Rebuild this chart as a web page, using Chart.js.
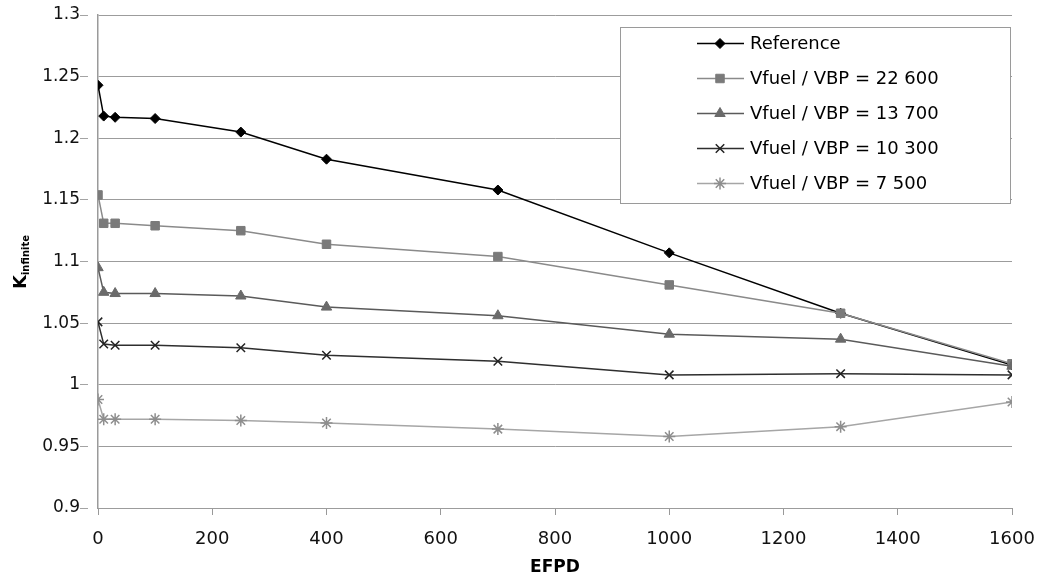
<!DOCTYPE html>
<html>
<head>
<meta charset="utf-8">
<script src="https://cdn.jsdelivr.net/npm/chart.js@4.4.0/dist/chart.umd.min.js"></script>
<style>
  html, body { margin: 0; padding: 0; background: #ffffff; }
  #wrap { width: 1041px; height: 578px; }
</style>
</head>
<body>
<div id="wrap"><canvas id="c" width="1041" height="578"></canvas></div>
<script>
// ---- data ----
const efpd = [0, 10, 30, 100, 250, 400, 700, 1000, 1300, 1600];
const seriesLabels = ['Reference', 'Vfuel / VBP = 22 600', 'Vfuel / VBP = 13 700', 'Vfuel / VBP = 10 300', 'Vfuel / VBP = 7 500'];
const kReference = [1.243, 1.218, 1.217, 1.216, 1.205, 1.183, 1.158, 1.107, 1.058, 1.016];
const k22600 = [1.154, 1.131, 1.131, 1.129, 1.125, 1.114, 1.104, 1.081, 1.058, 1.017];
const k13700 = [1.095, 1.075, 1.074, 1.074, 1.072, 1.063, 1.056, 1.041, 1.037, 1.015];
const k10300 = [1.051, 1.033, 1.032, 1.032, 1.030, 1.024, 1.019, 1.008, 1.009, 1.008];
const k7500 = [0.988, 0.972, 0.972, 0.972, 0.971, 0.969, 0.964, 0.958, 0.966, 0.986];
const xTicks = [0, 200, 400, 600, 800, 1000, 1200, 1400, 1600];
const yTicks = [0.9, 0.95, 1, 1.05, 1.1, 1.15, 1.2, 1.25, 1.3];
const xTitle = 'EFPD';
const yTitleMain = 'K';
const yTitleSub = 'infinite';

const FONT = "'DejaVu Sans', sans-serif";

const styles = [
  { line: '#000000', fill: '#000000', stroke: '#000000', point: 'rectRot', r: 5, bw: 1 },
  { line: '#8a8a8a', fill: '#7a7a7a', stroke: '#7a7a7a', point: 'rect', r: 6, bw: 1 },
  { line: '#5a5a5a', fill: '#6a6a6a', stroke: '#6a6a6a', point: 'triangle', r: 6, bw: 1 },
  { line: '#2e2e2e', fill: '#222222', stroke: '#222222', point: 'crossRot', r: 6, bw: 1.5 },
  { line: '#a6a6a6', fill: '#8e8e8e', stroke: '#8e8e8e', point: 'star', r: 6, bw: 1.5 }
];
const seriesValues = [kReference, k22600, k13700, k10300, k7500];

const datasets = seriesValues.map((vals, i) => ({
  label: seriesLabels[i],
  data: efpd.map((x, j) => ({ x: x, y: vals[j] })),
  showLine: true,
  borderColor: styles[i].line,
  borderWidth: 1.5,
  backgroundColor: styles[i].fill,
  pointStyle: styles[i].point,
  pointRadius: styles[i].r,
  pointBorderColor: styles[i].stroke,
  pointBackgroundColor: styles[i].fill,
  pointBorderWidth: styles[i].bw,
  tension: 0,
  order: 4 - i
}));

function drawMarker(ctx, st, x, y) {
  ctx.save();
  ctx.fillStyle = st.fill;
  ctx.strokeStyle = st.stroke;
  ctx.lineWidth = st.bw;
  if (Chart.helpers && Chart.helpers.drawPoint) {
    Chart.helpers.drawPoint(ctx, { pointStyle: st.point, radius: st.r, borderWidth: st.bw, rotation: 0 }, x, y);
  }
  ctx.restore();
}

const legendPlugin = {
  id: 'boxLegend',
  afterDatasetsDraw(chart) {
    const ctx = chart.ctx;
    ctx.save();
    ctx.fillStyle = '#ffffff';
    ctx.fillRect(620.5, 27.5, 390, 176);
    ctx.strokeStyle = '#9a9a9a';
    ctx.lineWidth = 1;
    ctx.strokeRect(620.5, 27.5, 390, 176);
    ctx.font = '18px ' + FONT;
    ctx.textBaseline = 'middle';
    ctx.textAlign = 'left';
    for (let i = 0; i < seriesLabels.length; i++) {
      const y = 43.5 + 35 * i;
      ctx.strokeStyle = styles[i].line;
      ctx.lineWidth = 1.5;
      ctx.beginPath();
      ctx.moveTo(697, y);
      ctx.lineTo(744, y);
      ctx.stroke();
      drawMarker(ctx, styles[i], 720, y);
      ctx.fillStyle = '#000000';
      ctx.fillText(seriesLabels[i], 750, y + 1);
    }
    ctx.restore();
  }
};

const yTitlePlugin = {
  id: 'yTitle',
  afterDraw(chart) {
    const ctx = chart.ctx;
    ctx.save();
    ctx.translate(20, 262);
    ctx.rotate(-Math.PI / 2);
    ctx.fillStyle = '#000000';
    ctx.textBaseline = 'alphabetic';
    ctx.textAlign = 'left';
    ctx.font = 'bold 18px ' + FONT;
    const wK = ctx.measureText(yTitleMain).width;
    ctx.font = 'bold 10px ' + FONT;
    const wS = ctx.measureText(yTitleSub).width;
    const start = -(wK + wS) / 2;
    ctx.font = 'bold 18px ' + FONT;
    ctx.fillText(yTitleMain, start, 6);
    ctx.font = 'bold 10px ' + FONT;
    ctx.fillText(yTitleSub, start + wK, 9);
    ctx.restore();
  }
};

new Chart(document.getElementById('c'), {
  type: 'scatter',
  data: { datasets: datasets },
  plugins: [legendPlugin, yTitlePlugin],
  options: {
    responsive: false,
    animation: false,
    layout: { padding: { left: 0, right: 29, top: 15, bottom: 0 } },
    plugins: { legend: { display: false }, tooltip: { enabled: false } },
    scales: {
      x: {
        type: 'linear',
        min: 0, max: 1600,
        afterBuildTicks: (s) => { s.ticks = xTicks.map(v => ({ value: v })); },
        afterFit: (s) => { s.height = 70; },
        grid: { drawOnChartArea: false, drawTicks: true, tickLength: 21, color: '#999999', tickBorderDash: [7, 200] },
        border: { display: false },
        ticks: {
          color: '#111111', font: { family: FONT, size: 18 }, padding: 0, maxRotation: 0,
          callback: (v) => String(v)
        },
        title: { display: true, text: xTitle, color: '#000000', font: { family: FONT, size: 17, weight: 'bold' }, padding: { top: 0, bottom: 0 } }
      },
      y: {
        type: 'linear',
        min: 0.9, max: 1.3,
        afterBuildTicks: (s) => { s.ticks = yTicks.map(v => ({ value: v })); },
        afterFit: (s) => { s.width = 98; },
        grid: { color: '#9c9c9c', tickLength: 18, lineWidth: 1, tickColor: '#a4a4a4', tickBorderDash: [8, 200] },
        border: { display: true, color: '#9a9a9a', width: 1.5, dash: [] },
        ticks: {
          color: '#111111', font: { family: FONT, size: 17 }, padding: 0,
          callback: (v) => String(parseFloat(Number(v).toFixed(2)))
        }
      }
    }
  }
});
</script>
</body>
</html>
